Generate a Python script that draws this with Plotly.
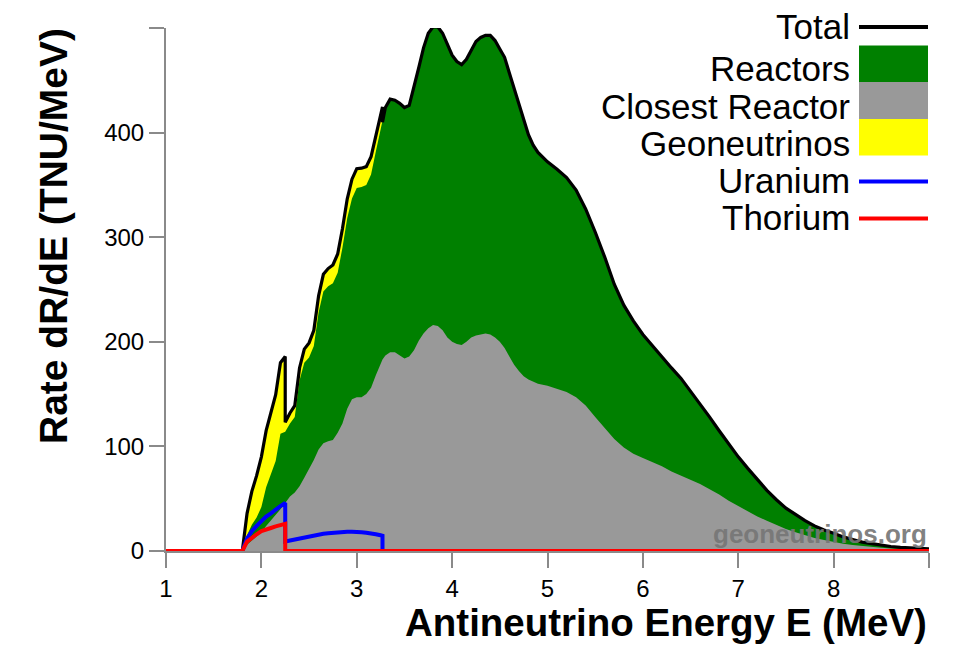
import plotly.graph_objects as go

# ---------------------------------------------------------------------------
# Antineutrino spectra (TNU/MeV) versus energy (MeV)
# Low-energy part: where the geoneutrino (U, Th) spectra are non-zero.
# Repeated energies mark the Th (2.25 MeV) and U (3.27 MeV) endpoints.
# ---------------------------------------------------------------------------
energy_low = [1.0, 1.8, 1.85, 1.9, 1.95, 2.0, 2.05, 2.1, 2.15, 2.2, 2.25, 2.25,
              2.3, 2.35, 2.4, 2.45, 2.5, 2.55, 2.6, 2.65, 2.7, 2.75, 2.8, 2.85,
              2.9, 2.95, 3.0, 3.05, 3.1, 3.15, 3.2, 3.25, 3.27, 3.27]

reactors_low = [0, 0, 15, 25, 32, 42, 61, 73, 86, 112, 114, 114,
                122, 128, 163, 180, 185, 196, 228, 248, 253, 256, 266, 290,
                318, 337, 347, 348, 350, 360, 382, 404, 410, 410]

closest_low = [0, 0, 6, 10, 14, 18, 24, 29, 35, 40, 46, 46,
               52, 56, 62, 70, 78, 87, 97, 103, 105, 106, 113, 122,
               136, 145, 147, 147, 150, 156, 168, 180, 183, 183]

uranium = [0, 0, 12, 19, 24, 29, 33, 36, 40, 43, 46, 9,
           10, 11, 12, 13, 14, 15, 16, 16.5, 17, 17.5, 18, 18,
           18.5, 18.5, 18.5, 18, 17.5, 17, 16, 15, 14.5, 0]

thorium = [0, 0, 9, 13, 16, 19, 21, 22, 23.5, 25, 26, 0,
           0, 0, 0, 0, 0, 0, 0, 0, 0, 0, 0, 0,
           0, 0, 0, 0, 0, 0, 0, 0, 0, 0]

# High-energy part: reactor antineutrinos only
energy_high = [3.3, 3.35, 3.4, 3.45, 3.5, 3.55, 3.6, 3.65, 3.7, 3.75, 3.8,
               3.85, 3.9, 3.95, 4.0, 4.05, 4.1, 4.15, 4.2, 4.25, 4.3, 4.35,
               4.4, 4.45, 4.5, 4.55, 4.6, 4.65, 4.7, 4.75, 4.8, 4.85, 4.9,
               5.0, 5.1, 5.2, 5.3, 5.4, 5.5, 5.6, 5.7, 5.8, 5.9, 6.0, 6.1,
               6.2, 6.3, 6.4, 6.5, 6.6, 6.7, 6.8, 6.9, 7.0, 7.1, 7.2, 7.3,
               7.4, 7.5, 7.6, 7.7, 7.8, 7.9, 8.0, 8.1, 8.2, 8.3, 8.4, 8.5,
               8.6, 8.7, 8.8, 8.9, 9.0]

reactors_high = [424, 432, 431, 428, 424, 426, 443, 462, 481, 495, 501,
                 501, 495, 484, 474, 468, 465, 470, 478, 487, 491, 493,
                 493, 488, 480, 472, 457, 442, 428, 411, 398, 388, 381,
                 372, 365, 357, 345, 327, 305, 281, 255, 235, 220, 207, 196,
                 185, 175, 165, 153, 141, 128, 115, 102, 90, 79, 68, 58,
                 49, 41, 35, 29, 24, 20, 17, 13.5, 11, 8.5, 7, 5.5,
                 4.3, 3.5, 2.8, 2.3, 2.0]

closest_high = [187, 190, 190, 187, 184, 186, 192, 201, 208, 213, 216,
                215, 211, 204, 200, 198, 197, 200, 204, 206, 207, 208,
                207, 204, 200, 194, 186, 178, 172, 167, 164, 162, 160,
                158, 155, 152, 147, 139, 128, 117, 107, 99, 93, 89, 85,
                81, 76, 72, 68, 64, 59, 54, 48, 43, 38, 33, 29,
                25, 21, 18, 15, 12.5, 10.5, 8.5, 7, 5.7, 4.6, 3.7, 3,
                2.4, 1.9, 1.5, 1.2, 1.0]

x_ticks = [1, 2, 3, 4, 5, 6, 7, 8, 9]
x_tick_text = ["1", "2", "3", "4", "5", "6", "7", "8", ""]
y_ticks = [0, 100, 200, 300, 400, 500]
y_tick_text = ["0", "100", "200", "300", "400", ""]

# Combined series
energy = energy_low + energy_high
reactors = reactors_low + reactors_high
closest = closest_low + closest_high
geo_low = [u + t for u, t in zip(uranium, thorium)]
total = [r + g for r, g in zip(reactors_low, geo_low)] + reactors_high

# U and Th spectra stay at zero up to the end of the axis
u_x = energy_low + [energy_high[-1]]
u_y = uranium + [0]
th_x = energy_low + [energy_high[-1]]
th_y = thorium + [0]

# ---------------------------------------------------------------------------
W, H = 953, 646
ML, MR, MT, MB = 166, 24, 28, 95
FONT = "Liberation Sans, Arial, Helvetica, sans-serif"
AXIS_GRAY = "#8a8a8a"
GREEN = "#008000"
GRAY = "#999999"
YELLOW = "#ffff00"
BLUE = "#0000ff"
RED = "#ff0000"


def px(x):
    return (x - ML) / (W - ML - MR)


def py(y):
    return 1 - (y - MT) / (H - MT - MB)


fig = go.Figure()

# Total (filled yellow: the part above the reactor spectrum is the geoneutrino signal)
fig.add_trace(go.Scatter(x=energy, y=total, mode="lines", fill="tozeroy",
                         fillcolor=YELLOW, line=dict(width=0),
                         hoverinfo="skip"))
fig.add_trace(go.Scatter(x=energy, y=reactors, mode="lines", fill="tozeroy",
                         fillcolor=GREEN, line=dict(width=0),
                         hoverinfo="skip"))
fig.add_trace(go.Scatter(x=energy, y=closest, mode="lines", fill="tozeroy",
                         fillcolor=GRAY, line=dict(width=0),
                         hoverinfo="skip"))
fig.add_trace(go.Scatter(x=energy, y=total, mode="lines",
                         line=dict(color="black", width=3.2)))
fig.add_trace(go.Scatter(x=u_x, y=u_y, mode="lines",
                         line=dict(color=BLUE, width=4)))
fig.add_trace(go.Scatter(x=th_x, y=th_y, mode="lines",
                         line=dict(color=RED, width=4)))

axis_common = dict(
    showgrid=False, zeroline=False, showline=True, linecolor=AXIS_GRAY,
    linewidth=2, ticks="outside", ticklen=15, tickwidth=2,
    tickcolor=AXIS_GRAY, tickfont=dict(family=FONT, size=24, color="black"),
)

fig.update_layout(
    width=W, height=H,
    margin=dict(l=ML, r=MR, t=MT, b=MB, pad=0),
    plot_bgcolor="white", paper_bgcolor="white",
    showlegend=False,
    xaxis=dict(range=[1, 9], tickmode="array", tickvals=x_ticks,
               ticktext=x_tick_text, **axis_common),
    yaxis=dict(range=[0, 500], tickmode="array", tickvals=y_ticks,
               ticktext=y_tick_text, **axis_common),
)

annotations = []
shapes = []

# Axis titles
annotations.append(dict(
    text="<b>Antineutrino Energy E (MeV)</b>", xref="paper", yref="paper",
    x=px(929), y=py(622), xanchor="right", yanchor="middle", showarrow=False,
    font=dict(family=FONT, size=38.5, color="black")))
annotations.append(dict(
    text="<b>Rate dR/dE (TNU/MeV)</b>", xref="paper", yref="paper",
    x=px(53), y=py(26), xanchor="center", yanchor="top", textangle=-90,
    showarrow=False, font=dict(family=FONT, size=39, color="black")))

# Watermark
annotations.append(dict(
    text="<b>geoneutrinos.org</b>", xref="paper", yref="paper",
    x=px(929), y=py(534), xanchor="right", yanchor="middle", showarrow=False,
    font=dict(family=FONT, size=26, color="rgba(118,118,118,0.92)")))

# Legend: right-aligned labels followed by swatches
legend_rows = [
    ("Total", "line", "black", 26),
    ("Reactors", "box", GREEN, 69),
    ("Closest Reactor", "box", GRAY, 106),
    ("Geoneutrinos", "box", YELLOW, 143),
    ("Uranium", "line", BLUE, 180.5),
    ("Thorium", "line", RED, 217.5),
]
box_edges = {GREEN: (45.5, 82), GRAY: (82, 119), YELLOW: (119, 155.5)}
for label, kind, color, yc in legend_rows:
    annotations.append(dict(
        text=label, xref="paper", yref="paper", x=px(852), y=py(yc),
        xanchor="right", yanchor="middle", showarrow=False,
        font=dict(family=FONT, size=35, color="black")))
    if kind == "line":
        shapes.append(dict(type="line", xref="paper", yref="paper",
                           x0=px(859), x1=px(928), y0=py(yc + 1), y1=py(yc + 1),
                           line=dict(color=color, width=4)))
    else:
        y0, y1 = box_edges[color]
        shapes.append(dict(type="rect", xref="paper", yref="paper",
                           x0=px(859), x1=px(928), y0=py(y1), y1=py(y0),
                           fillcolor=color, line=dict(width=0)))

fig.update_layout(annotations=annotations, shapes=shapes)

fig.write_html("out.html")
